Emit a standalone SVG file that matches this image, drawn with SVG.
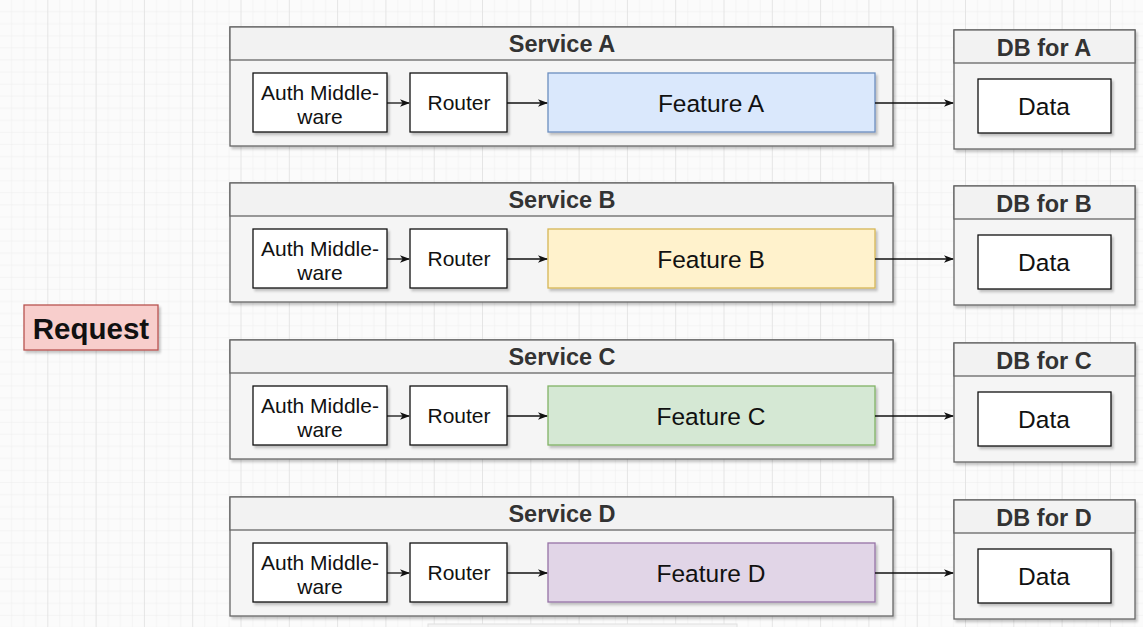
<svg xmlns="http://www.w3.org/2000/svg" width="1143" height="627" viewBox="0 0 1143 627">
  <defs>
    <pattern id="minor" width="12.08" height="12.08" patternUnits="userSpaceOnUse">
      <path d="M12.08 0V12.08M0 12.08H12.08" fill="none" stroke="#ececec" stroke-width="1"/>
    </pattern>
    <pattern id="major" width="48.3" height="48.3" patternUnits="userSpaceOnUse">
      <rect width="48.3" height="48.3" fill="url(#minor)"/>
      <path d="M48.3 0V48.3" fill="none" stroke="#e0e0e0" stroke-width="1.5"/>
    </pattern>
    <filter id="sh" x="-5%" y="-5%" width="115%" height="125%">
      <feDropShadow dx="2" dy="2.5" stdDeviation="1" flood-color="#000" flood-opacity="0.22"/>
    </filter>
    <marker id="arr" viewBox="0 0 10 10" refX="9" refY="5" markerWidth="10" markerHeight="10" markerUnits="userSpaceOnUse" orient="auto">
      <path d="M0 1.2L10 5L0 8.8L2.6 5Z" fill="#111"/>
    </marker>
    <style>
      .cont{fill:#f5f5f5;stroke:#666;stroke-width:1.3;filter:url(#sh)}
      .hdr{fill:#f2f2f2;stroke:#666;stroke-width:1.3}
      .box{fill:#fff;stroke:#111;stroke-width:1.3;filter:url(#sh)}
      .fa{fill:#dae8fc;stroke:#6c8ebf;stroke-width:1.3;filter:url(#sh)}
      .fb{fill:#fff2cc;stroke:#d6b656;stroke-width:1.3;filter:url(#sh)}
      .fc{fill:#d5e8d4;stroke:#82b366;stroke-width:1.3;filter:url(#sh)}
      .fd{fill:#e1d5e7;stroke:#9673a6;stroke-width:1.3;filter:url(#sh)}
      text{font-family:"Liberation Sans",Arial,Helvetica,sans-serif;text-anchor:middle;fill:#111}
      .ht{font-size:23.5px;font-weight:bold;fill:#333}
      .sm{font-size:21px}
      .lg{font-size:24.5px}
      .edge{fill:none;stroke:#111;stroke-width:1.3;marker-end:url(#arr)}
    </style>
  </defs>
  <rect width="1143" height="627" fill="#fbfbfb"/>
  <rect width="1143" height="627" fill="url(#major)"/>
  <rect x="428" y="624" width="309" height="6" fill="#f4f4f4" stroke="#e0e0e0" stroke-width="1"/>

  <g id="request">
    <rect x="24" y="305" width="134" height="45" fill="#f8cecc" stroke="#b85450" stroke-width="1.3" filter="url(#sh)"/>
    <text x="91" y="338.5" style="font-size:29.5px;font-weight:bold">Request</text>
  </g>

  <!-- Service A -->
  <g id="serviceA">
    <rect class="cont" x="230" y="27" width="663" height="119"/>
    <rect class="hdr" x="230" y="27" width="663" height="33"/>
    <text class="ht" x="562" y="52">Service A</text>
  </g>
  <g id="authA"><rect class="box" x="253" y="73" width="134" height="59"/><text class="sm" x="320" y="100">Auth Middle-</text><text class="sm" x="320" y="124">ware</text></g>
  <g id="routerA"><rect class="box" x="410" y="73" width="97" height="59"/><text class="sm" x="459" y="110">Router</text></g>
  <g id="featureA"><rect class="fa" x="548" y="73" width="327" height="59"/><text class="lg" x="711" y="111.5">Feature A</text></g>
  <g id="dbA">
    <rect class="cont" x="954" y="30" width="181" height="119"/>
    <rect class="hdr" x="954" y="30" width="181" height="33"/>
    <text class="ht" x="1044" y="55.5">DB for A</text>
  </g>
  <g id="dataA"><rect class="box" x="978" y="79" width="133" height="54"/><text class="lg" x="1044" y="114.5">Data</text></g>

  <!-- Service B -->
  <g id="serviceB">
    <rect class="cont" x="230" y="183" width="663" height="119"/>
    <rect class="hdr" x="230" y="183" width="663" height="33"/>
    <text class="ht" x="562" y="208">Service B</text>
  </g>
  <g id="authB"><rect class="box" x="253" y="229" width="134" height="59"/><text class="sm" x="320" y="256">Auth Middle-</text><text class="sm" x="320" y="280">ware</text></g>
  <g id="routerB"><rect class="box" x="410" y="229" width="97" height="59"/><text class="sm" x="459" y="266">Router</text></g>
  <g id="featureB"><rect class="fb" x="548" y="229" width="327" height="59"/><text class="lg" x="711" y="267.5">Feature B</text></g>
  <g id="dbB">
    <rect class="cont" x="954" y="186" width="181" height="119"/>
    <rect class="hdr" x="954" y="186" width="181" height="33"/>
    <text class="ht" x="1044" y="211.5">DB for B</text>
  </g>
  <g id="dataB"><rect class="box" x="978" y="235" width="133" height="54"/><text class="lg" x="1044" y="270.5">Data</text></g>

  <!-- Service C -->
  <g id="serviceC">
    <rect class="cont" x="230" y="340" width="663" height="119"/>
    <rect class="hdr" x="230" y="340" width="663" height="33"/>
    <text class="ht" x="562" y="365">Service C</text>
  </g>
  <g id="authC"><rect class="box" x="253" y="386" width="134" height="59"/><text class="sm" x="320" y="413">Auth Middle-</text><text class="sm" x="320" y="437">ware</text></g>
  <g id="routerC"><rect class="box" x="410" y="386" width="97" height="59"/><text class="sm" x="459" y="423">Router</text></g>
  <g id="featureC"><rect class="fc" x="548" y="386" width="327" height="59"/><text class="lg" x="711" y="424.5">Feature C</text></g>
  <g id="dbC">
    <rect class="cont" x="954" y="343" width="181" height="119"/>
    <rect class="hdr" x="954" y="343" width="181" height="33"/>
    <text class="ht" x="1044" y="368.5">DB for C</text>
  </g>
  <g id="dataC"><rect class="box" x="978" y="392" width="133" height="54"/><text class="lg" x="1044" y="427.5">Data</text></g>

  <!-- Service D -->
  <g id="serviceD">
    <rect class="cont" x="230" y="497" width="663" height="119"/>
    <rect class="hdr" x="230" y="497" width="663" height="33"/>
    <text class="ht" x="562" y="522">Service D</text>
  </g>
  <g id="authD"><rect class="box" x="253" y="543" width="134" height="59"/><text class="sm" x="320" y="570">Auth Middle-</text><text class="sm" x="320" y="594">ware</text></g>
  <g id="routerD"><rect class="box" x="410" y="543" width="97" height="59"/><text class="sm" x="459" y="580">Router</text></g>
  <g id="featureD"><rect class="fd" x="548" y="543" width="327" height="59"/><text class="lg" x="711" y="581.5">Feature D</text></g>
  <g id="dbD">
    <rect class="cont" x="954" y="500" width="181" height="119"/>
    <rect class="hdr" x="954" y="500" width="181" height="33"/>
    <text class="ht" x="1044" y="525.5">DB for D</text>
  </g>
  <g id="dataD"><rect class="box" x="978" y="549" width="133" height="54"/><text class="lg" x="1044" y="584.5">Data</text></g>

  <g id="connectors">
    <path class="edge" d="M387 103H409"/>
    <path class="edge" d="M507 103H547"/>
    <path class="edge" d="M875 103H953"/>
    <path class="edge" d="M387 259H409"/>
    <path class="edge" d="M507 259H547"/>
    <path class="edge" d="M875 259H953"/>
    <path class="edge" d="M387 416H409"/>
    <path class="edge" d="M507 416H547"/>
    <path class="edge" d="M875 416H953"/>
    <path class="edge" d="M387 573H409"/>
    <path class="edge" d="M507 573H547"/>
    <path class="edge" d="M875 573H953"/>
  </g>
</svg>
